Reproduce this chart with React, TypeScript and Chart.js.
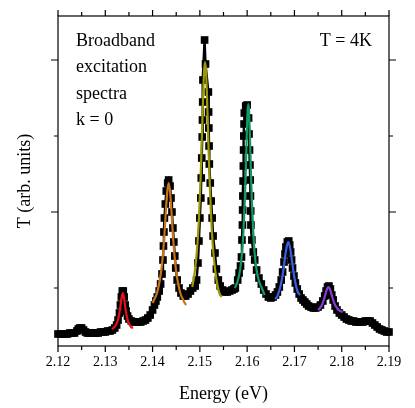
import { useEffect, useRef } from "react";
import { Chart, registerables } from "chart.js";

Chart.register(...registerables);

// Measured spectrum (energy in eV, transmission in arbitrary units)
const energy = [
  2.1200, 2.1205, 2.1210, 2.1215, 2.1220, 2.1225, 2.1230, 2.1235, 2.1240, 2.1243,
  2.1246, 2.1250, 2.1254, 2.1258, 2.1262, 2.1266, 2.1270, 2.1275, 2.1280, 2.1285,
  2.1290, 2.1295, 2.1300, 2.1305, 2.1310, 2.1315, 2.1320, 2.1324, 2.1327, 2.1330,
  2.1332, 2.1334, 2.1336, 2.1338, 2.1340, 2.1342, 2.1344, 2.1347, 2.1350, 2.1355,
  2.1360, 2.1365, 2.1370, 2.1375, 2.1380, 2.1385, 2.1390, 2.1395, 2.1400, 2.1404,
  2.1407, 2.1410, 2.1414, 2.1417, 2.1420, 2.1422, 2.1423, 2.1424, 2.1425, 2.1427,
  2.1429, 2.1432, 2.1434, 2.1437, 2.1439, 2.1441, 2.1443, 2.1445, 2.1447, 2.1449,
  2.1452, 2.1456, 2.1460, 2.1465, 2.1470, 2.1475, 2.1480, 2.1485, 2.1490, 2.1493,
  2.1496, 2.1498, 2.1500, 2.1502, 2.1503, 2.1504, 2.1505, 2.15055, 2.1506, 2.15065,
  2.1510, 2.1512, 2.1518, 2.15185, 2.1519, 2.15195, 2.1520, 2.1522, 2.1524, 2.1526,
  2.1528, 2.1532, 2.1535, 2.1539, 2.1543, 2.1548, 2.1553, 2.1558, 2.1563, 2.1568,
  2.1572, 2.1575, 2.1580, 2.1583, 2.1586, 2.1588, 2.1589, 2.1590, 2.15905, 2.1591,
  2.15915, 2.1592, 2.15925, 2.1593, 2.15935, 2.1594, 2.1597, 2.1600, 2.1603, 2.1604,
  2.1605, 2.1606, 2.16065, 2.1607, 2.16075, 2.1608, 2.1610, 2.1613, 2.1616, 2.1620,
  2.1625, 2.1630, 2.1635, 2.1640, 2.1645, 2.1650, 2.1655, 2.1660, 2.1664, 2.1668,
  2.1672, 2.1675, 2.1678, 2.1680, 2.1682, 2.1685, 2.1688, 2.1690, 2.1692, 2.1694,
  2.1696, 2.1699, 2.1702, 2.1706, 2.1710, 2.1714, 2.1718, 2.1722, 2.1726, 2.1730,
  2.1735, 2.1740, 2.1745, 2.1750, 2.1755, 2.1760, 2.1764, 2.1767, 2.1770, 2.1773,
  2.1776, 2.1779, 2.1782, 2.1786, 2.1790, 2.1795, 2.1800, 2.1805, 2.1810, 2.1815,
  2.1820, 2.1825, 2.1830, 2.1835, 2.1840, 2.1845, 2.1850, 2.1855, 2.1860, 2.1865,
  2.1870, 2.1875, 2.1880, 2.1885, 2.1890, 2.1895, 2.1900,
];
const signal = [
  12, 12, 12, 12, 12, 13, 13, 13, 15, 17,
  18, 18, 16, 14, 13, 13, 13, 13, 13, 13,
  14, 14, 14, 15, 15, 16, 18, 21, 26, 33,
  41, 49, 55, 55, 49, 41, 35, 30, 27, 25,
  24, 24, 24, 24, 25, 26, 28, 31, 36, 41,
  45, 49, 55, 62, 72, 86, 100, 114, 128, 142,
  155, 163, 166, 160, 148, 134, 118, 104, 90, 78,
  66, 58, 53, 50, 50, 52, 55, 58, 60, 66,
  83, 105, 128, 148, 168, 188, 209, 226, 244, 266,
  306, 282, 254, 234, 218, 200, 182, 163, 145, 128,
  110, 93, 77, 66, 60, 56, 54, 54, 55, 56,
  57, 58, 66, 73, 80, 89, 106, 121, 136, 150,
  165, 180, 196, 210, 222, 233, 240, 241, 228, 212,
  196, 181, 166, 150, 135, 121, 106, 94, 86, 76,
  68, 62, 56, 52, 49, 48, 49, 51, 54, 59,
  66, 74, 84, 92, 99, 104, 105, 101, 94, 86,
  78, 70, 63, 57, 52, 48, 46, 44, 42, 40,
  39, 38, 38, 39, 41, 45, 50, 55, 59, 60,
  57, 51, 46, 40, 36, 33, 31, 29, 27, 26,
  25, 25, 24, 24, 24, 24, 25, 25, 25, 23,
  21, 19, 17, 16, 15, 14, 14,
];

// Lorentzian fits of each peak
const redE = [2.1314, 2.1318, 2.1322, 2.1326, 2.1329, 2.1332, 2.1334, 2.1337, 2.1340, 2.1342, 2.1345, 2.1348, 2.1352, 2.1356, 2.1359];
const redT = [17, 18.4, 20.7, 25, 30.7, 39.7, 46.9, 53, 46.9, 39.7, 30.7, 25, 20.7, 18.4, 18.7];

const orangeE = [2.1400, 2.1404, 2.1408, 2.1412, 2.1416, 2.1419, 2.1422, 2.1425, 2.1428, 2.1431, 2.1434, 2.1437, 2.1440, 2.1443, 2.1446, 2.1449, 2.1452, 2.1456, 2.1460, 2.1464, 2.1468, 2.1471];
const orangeT = [43, 47, 51, 58, 68, 78, 92, 111, 134, 154, 163, 154, 134, 111, 92, 78, 68, 58, 51, 47, 43, 41];

const oliveE = [2.1484, 2.1488, 2.1492, 2.1495, 2.1498, 2.1501, 2.1503, 2.1505, 2.1507, 2.1509, 2.1511, 2.1513, 2.1515, 2.1517, 2.1519, 2.1521, 2.1524, 2.1527, 2.1530, 2.1534, 2.1538, 2.1542, 2.1546];
const oliveT = [59, 70, 86, 103, 127, 161, 189, 220, 251, 275, 284, 275, 251, 220, 189, 161, 127, 103, 86, 70, 59, 52, 49];

const greenE = [2.1574, 2.1580, 2.1585, 2.1589, 2.1592, 2.1595, 2.1597, 2.1599, 2.1601, 2.16025, 2.1604, 2.1606, 2.1608, 2.1610, 2.1613, 2.1616, 2.1620, 2.1625, 2.1631, 2.1637];
const greenT = [58, 65, 76, 92, 113, 145, 174, 208, 235, 242, 235, 208, 174, 145, 113, 92, 76, 65, 58, 51];

const blueE = [2.1659, 2.1663, 2.1667, 2.1671, 2.1675, 2.1678, 2.1681, 2.1684, 2.1687, 2.1690, 2.1693, 2.1696, 2.1699, 2.1703, 2.1707, 2.1712];
const blueT = [47, 49, 54, 61, 71, 81, 91.5, 100, 104, 100, 91.5, 81, 71, 61, 54, 51];

const purpleE = [2.1750, 2.1754, 2.1758, 2.1762, 2.1765, 2.1768, 2.1770, 2.1772, 2.1774, 2.1776, 2.1779, 2.1782, 2.1786, 2.1790, 2.1796, 2.1802];
const purpleT = [36, 38, 41, 46, 50.7, 55.6, 58, 59, 58, 55.6, 50.7, 46, 41, 38, 35.2, 34];

// Axis ticks
const xMajorTicks = [2.12, 2.13, 2.14, 2.15, 2.16, 2.17, 2.18, 2.19];
const xMinorTicks = [2.125, 2.135, 2.145, 2.155, 2.165, 2.175, 2.185];
const yMajorTicks = [134, 286];
const yMinorTicks = [58, 210];

const labelLines = ["Broadband", "excitation", "spectra", "k = 0"];
const tempLabel = "T = 4K";

const SERIF = '"Liberation Serif", "Times New Roman", serif';

const pts = (xs: number[], ys: number[]) => xs.map((x, i) => ({ x, y: ys[i] }));

const framePlugin = {
  id: "frame",
  afterDraw(chart: any) {
    const { ctx, chartArea: a, scales } = chart;
    const xs = scales.x;
    const ys = scales.y;
    ctx.save();
    ctx.strokeStyle = "#000";
    ctx.lineWidth = 1.2;
    ctx.strokeRect(a.left, a.top, a.right - a.left, a.bottom - a.top);
    ctx.beginPath();
    const xt = (v: number, len: number) => {
      const p = xs.getPixelForValue(v);
      ctx.moveTo(p, a.bottom);
      ctx.lineTo(p, a.bottom + len);
      ctx.moveTo(p, a.top);
      ctx.lineTo(p, a.top - len);
    };
    const yt = (v: number, len: number) => {
      const p = ys.getPixelForValue(v);
      ctx.moveTo(a.left, p);
      ctx.lineTo(a.left - len, p);
      ctx.moveTo(a.right, p);
      ctx.lineTo(a.right + len, p);
    };
    xMajorTicks.forEach((v) => xt(v, 6));
    xMinorTicks.forEach((v) => xt(v, 4));
    yMajorTicks.forEach((v) => yt(v, 7));
    yMinorTicks.forEach((v) => yt(v, 4));
    ctx.stroke();

    ctx.fillStyle = "#000";
    ctx.font = `18px ${SERIF}`;
    ctx.textBaseline = "alphabetic";
    ctx.textAlign = "left";
    labelLines.forEach((t, i) => ctx.fillText(t, a.left + 18, a.top + 30 + i * 26.4));
    ctx.textAlign = "right";
    ctx.fillText(tempLabel, a.right - 17, a.top + 30);
    ctx.restore();
  },
};

export default function App() {
  const ref = useRef<HTMLCanvasElement | null>(null);
  useEffect(() => {
    if (!ref.current) return;
    const fit = (xs: number[], ys: number[], color: string) => ({
      data: pts(xs, ys),
      borderColor: color,
      borderWidth: 2.2,
      pointRadius: 0,
      cubicInterpolationMode: "monotone" as const,
      order: 0,
    });
    const chart = new Chart(ref.current, {
      type: "line",
      data: {
        datasets: [
          {
            data: pts(energy, signal),
            borderColor: "#000",
            borderWidth: 2.4,
            pointStyle: "rect",
            pointRadius: 5.4,
            pointBackgroundColor: "#000",
            pointBorderColor: "#000",
            pointBorderWidth: 0,
            tension: 0,
            clip: false as any,
            order: 5,
          } as any,
          fit(redE, redT, "#e8101a"),
          fit(orangeE, orangeT, "#c8741a"),
          fit(oliveE, oliveT, "#9c9a00"),
          fit(greenE, greenT, "#109a64"),
          fit(blueE, blueT, "#3a5fe0"),
          fit(purpleE, purpleT, "#8a3ad8"),
        ],
      },
      options: {
        responsive: false,
        animation: false,
        devicePixelRatio: 1,
        events: [],
        layout: { padding: { top: 16, right: 26, left: 0, bottom: 0 } },
        plugins: { legend: { display: false }, tooltip: { enabled: false } },
        scales: {
          x: {
            type: "linear",
            min: 2.12,
            max: 2.19,
            afterBuildTicks: (s: any) => {
              s.ticks = xMajorTicks.map((v) => ({ value: v }));
            },
            ticks: {
              callback: (v: any) => Number(v).toFixed(2),
              font: { family: SERIF, size: 14 },
              color: "#000",
              padding: 8,
              maxRotation: 0,
              autoSkip: false,
            },
            grid: { display: false, drawTicks: false },
            border: { display: false },
            title: {
              display: true,
              text: "Energy (eV)",
              font: { family: SERIF, size: 18 },
              color: "#000",
              padding: { top: 0, bottom: 3 },
            },
            afterFit: (s: any) => {
              s.height = 62;
            },
          },
          y: {
            type: "linear",
            min: 0,
            max: 330,
            ticks: { display: false },
            grid: { display: false, drawTicks: false },
            border: { display: false },
            title: {
              display: true,
              text: "T (arb. units)",
              font: { family: SERIF, size: 18 },
              color: "#000",
              padding: { top: 14, bottom: 0 },
            },
            afterFit: (s: any) => {
              s.width = 58;
            },
          },
        },
      },
      plugins: [framePlugin],
    });
    return () => chart.destroy();
  }, []);
  return (
    <div style={{ position: "absolute", left: 0, top: 0, width: 415, height: 408, background: "#fff" }}>
      <canvas ref={ref} width={415} height={408} style={{ display: "block" }} />
    </div>
  );
}
